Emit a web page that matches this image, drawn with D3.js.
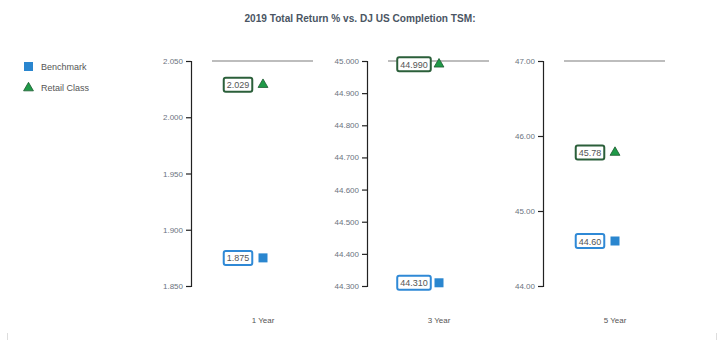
<!DOCTYPE html>
<html><head><meta charset="utf-8">
<script src="https://cdn.jsdelivr.net/npm/d3@7"></script>
<style>body{margin:0;background:#fff;font-family:Arial,"Liberation Sans",sans-serif;}</style>
</head><body><svg id="c" width="719" height="342"></svg>
<script>
const title = "2019 Total Return % vs. DJ US Completion TSM:";
const periods = ["1 Year", "3 Year", "5 Year"];
const benchmark = [1.875, 44.310, 44.60];
const retail = [2.029, 44.990, 45.78];
const domains = [[1.850, 2.050], [44.300, 45.000], [44.00, 47.00]];
const tickValues = [
  [1.850, 1.900, 1.950, 2.000, 2.050],
  [44.300, 44.400, 44.500, 44.600, 44.700, 44.800, 44.900, 45.000],
  [44.00, 45.00, 46.00, 47.00]
];
const decimals = [3, 3, 2];
const seriesNames = ["Benchmark", "Retail Class"];

const svg = d3.select("#c");
const blue = "#2a86cf", green = "#1f9a48", darkGreen = "#2b5f3a", boxBlue = "#2f89d6";
const font = "'Liberation Sans',Arial,sans-serif";

svg.append("text").attr("x", 360).attr("y", 22).attr("text-anchor", "middle")
  .attr("font-family", font).attr("font-size", 11.5).attr("font-weight", "bold").attr("fill", "#4a5563")
  .attr("textLength", 231).attr("lengthAdjust", "spacingAndGlyphs").text(title);

// legend
svg.append("rect").attr("x", 24).attr("y", 62).attr("width", 9).attr("height", 9).attr("fill", blue);
svg.append("text").attr("x", 41).attr("y", 70).attr("font-family", font).attr("font-size", 9).attr("fill", "#555").text(seriesNames[0]);
svg.append("path").attr("d", d3.symbol(d3.symbolTriangle, 42)()).attr("transform", "translate(28.5,88)")
  .attr("fill", green).attr("stroke", "#1d5a30").attr("stroke-width", 0.8);
svg.append("text").attr("x", 41).attr("y", 91).attr("font-family", font).attr("font-size", 9).attr("fill", "#555").text(seriesNames[1]);

const axisXs = [191, 367, 543];
const yTop = 61, yBot = 286;

periods.forEach((p, i) => {
  const ax = axisXs[i];
  const y = d3.scaleLinear().domain(domains[i]).range([yBot, yTop]);
  const g = svg.append("g").attr("transform", `translate(${ax},0)`);
  const axis = d3.axisLeft(y).tickValues(tickValues[i]).tickSize(5).tickSizeOuter(5)
    .tickFormat(d => d.toFixed(decimals[i]));
  g.call(axis);
  g.select(".domain").attr("stroke", "#222").attr("stroke-width", 1.2);
  g.selectAll(".tick line").attr("stroke", "#222").attr("stroke-width", 1.2);
  g.selectAll(".tick text").attr("font-size", 8).attr("fill", "#6b7480")
    .attr("font-family", font).attr("x", -8);

  // gray top line
  svg.append("line").attr("x1", ax + 21).attr("x2", ax + 122).attr("y1", y(domains[i][1])).attr("y2", y(domains[i][1]))
    .attr("stroke", "#bdbdbd").attr("stroke-width", 2);

  const mx = ax + 72, bx = ax + 47;
  const items = [
    {v: benchmark[i], stroke: boxBlue, type: "b"},
    {v: retail[i], stroke: darkGreen, type: "r"}
  ];
  items.forEach(it => {
    const yy = y(it.v);
    const txt = it.v.toFixed(decimals[i]);
    const t = svg.append("text").attr("x", bx).attr("y", yy + 3.5).attr("text-anchor", "middle")
      .attr("font-family", font).attr("font-size", 9).attr("fill", "#555").text(txt);
    const w = t.node().getComputedTextLength() + 6;
    svg.insert("rect", () => t.node()).attr("x", bx - w / 2).attr("y", yy - 7).attr("width", w).attr("height", 14)
      .attr("rx", 2).attr("fill", "#fff").attr("stroke", it.stroke).attr("stroke-width", 2);
    if (it.type === "b") {
      svg.append("rect").attr("x", mx - 4.5).attr("y", yy - 4.5).attr("width", 9).attr("height", 9).attr("fill", blue);
    } else {
      svg.append("path").attr("d", d3.symbol(d3.symbolTriangle, 42)()).attr("transform", `translate(${mx},${yy})`)
        .attr("fill", green).attr("stroke", "#1d5a30").attr("stroke-width", 0.8);
    }
  });

  svg.append("text").attr("x", mx).attr("y", 323).attr("text-anchor", "middle")
    .attr("font-family", font).attr("font-size", 8).attr("fill", "#555").text(p);
});

// faint border marks
svg.append("line").attr("x1", 7.5).attr("x2", 7.5).attr("y1", 333).attr("y2", 340).attr("stroke", "#ddd");
svg.append("line").attr("x1", 716.5).attr("x2", 716.5).attr("y1", 333).attr("y2", 340).attr("stroke", "#ddd");
</script></body></html>
